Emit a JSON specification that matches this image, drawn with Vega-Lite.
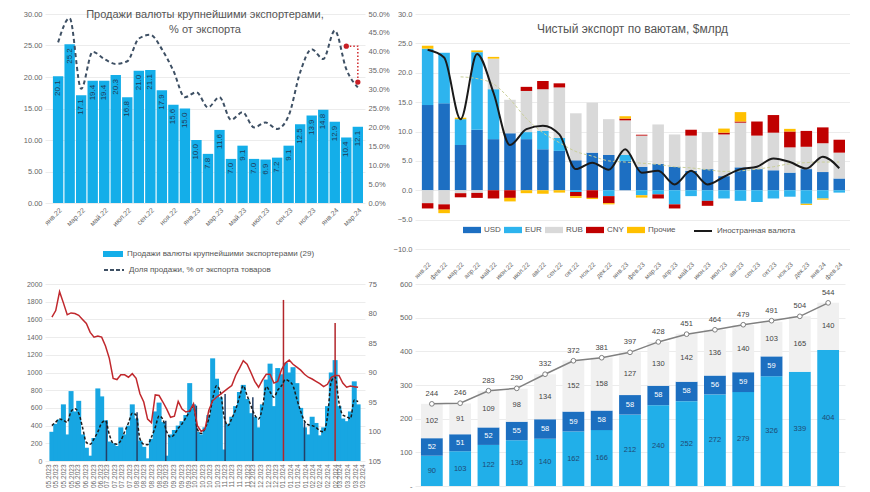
{
"$schema":"https://vega.github.io/schema/vega-lite/v6.json",
"background":"white",
"padding":{"left":23,"top":9,"right":0,"bottom":0},
"config":{"font":"Liberation Sans","view":{"stroke":null},
 "axis":{"domain":false,"ticks":false,"labelColor":"#666","gridColor":"#ececec","labelFontSize":7.5,"labelPadding":3,"labelOverlap":false},
 "legend":{"padding":0,"labelFontSize":8,"labelColor":"#555","labelLimit":300},
 "title":{"color":"#555","fontWeight":"normal","anchor":"middle","frame":"group"}},
"columns":2,
"spacing":{"row":35,"column":50},
"bounds":"flush",
"align":"each",
"resolve":{"scale":{"color":"independent","stroke":"independent"},"legend":{"color":"independent","stroke":"independent"}},
"concat":[
 {"width":320,"height":189,
  "title":{"text":["Продажи валюты крупнейшими экспортерами,","% от экспорта"],"fontSize":11,"lineHeight":15,"offset":-25},
  "data":{"values":[
{"m":"янв.22","v":20.1,"p":42.5},{"m":"фев.22","v":25.2,"p":48.9},{"m":"мар.22","v":17.1,"p":30.2},{"m":"апр.22","v":19.4,"p":40.0},{"m":"май.22","v":19.4,"p":38.1},{"m":"июн.22","v":20.3,"p":36.8},{"m":"июл.22","v":16.8,"p":37.5},{"m":"авг.22","v":21.0,"p":43.5},{"m":"сен.22","v":21.1,"p":44.5},{"m":"окт.22","v":17.9,"p":40.7},{"m":"ноя.22","v":15.6,"p":35.0},{"m":"дек.22","v":15.0,"p":28.0},{"m":"янв.23","v":10.0,"p":29.3},{"m":"фев.23","v":7.8,"p":25.3},{"m":"мар.23","v":11.6,"p":28.0},{"m":"апр.23","v":7.0,"p":22.0},{"m":"май.23","v":9.1,"p":24.0},{"m":"июн.23","v":7.0,"p":20.0},{"m":"июл.23","v":6.9,"p":21.3},{"m":"авг.23","v":7.2,"p":19.6},{"m":"сен.23","v":9.1,"p":23.1},{"m":"окт.23","v":12.5,"p":34.6},{"m":"ноя.23","v":13.9,"p":40.7},{"m":"дек.23","v":14.8,"p":38.1},{"m":"янв.24","v":12.9,"p":45.6},{"m":"фев.24","v":10.4,"p":35.4},{"m":"мар.24","v":12.1,"p":30.6}]},
  "resolve":{"scale":{"y":"independent"}},
  "layer":[
   {"encoding":{"x":{"field":"m","type":"ordinal","sort":null,"title":null,
       "scale":{"domain":["янв.22","фев.22","мар.22","апр.22","май.22","июн.22","июл.22","авг.22","сен.22","окт.22","ноя.22","дек.22","янв.23","фев.23","мар.23","апр.23","май.23","июн.23","июл.23","авг.23","сен.23","окт.23","ноя.23","дек.23","янв.24","фев.24","мар.24"],"paddingInner":0.1,"paddingOuter":0.43,"align":0.8},
       "axis":{"labelAngle":-45,"labelFontSize":7,"grid":false,"values":["янв.22","мар.22","май.22","июл.22","сен.22","ноя.22","янв.23","мар.23","май.23","июл.23","сен.23","ноя.23","янв.24","мар.24"]}},
     "y":{"field":"v","type":"quantitative","title":null,"scale":{"domain":[0,30]},"axis":{"values":[0,5,10,15,20,25,30],"format":".2f","grid":true}}},
    "layer":[
     {"mark":{"type":"bar"},
      "encoding":{"color":{"datum":"Продажи валюты крупнейшими экспортерами (29)","type":"nominal","scale":{"range":["#14aee9"]},
        "legend":{"title":null,"orient":"none","legendX":58,"legendY":230,"symbolType":"M-1,-0.3H1V0.3H-1Z","symbolSize":400,"symbolStrokeWidth":0}}}},
     {"mark":{"type":"text","angle":270,"align":"right","baseline":"middle","dx":-4,"fontSize":8,"color":"#1f3b58"},
      "encoding":{"text":{"field":"v","type":"quantitative","format":".1f"}}}
    ]},
   {"encoding":{"x":{"field":"m","type":"ordinal","sort":null},
     "y":{"field":"p","type":"quantitative","title":null,"scale":{"domain":[0,50]},"axis":{"orient":"right","values":[0,5,10,15,20,25,30,35,40,45,50],"labelExpr":"format(datum.value,'.1f')+'%'","grid":false}}},
    "layer":[
     {"mark":{"type":"line","strokeDash":[4,3],"strokeWidth":2,"interpolate":"monotone"},
      "encoding":{"stroke":{"datum":"Доля продажи, % от экспорта товаров","type":"nominal","scale":{"range":["#3e5064"]},
        "legend":{"title":null,"orient":"none","legendX":58,"legendY":245,"symbolType":"stroke","symbolDash":[4,2],"symbolStrokeWidth":2,"symbolSize":400}}}},
     {"data":{"values":[{"m":"фев.24","p":41.5,"o":1},{"m":"мар.24","p":41.5,"o":2},{"m":"мар.24","p":32,"o":3}]},
      "mark":{"type":"line","strokeDash":[1.5,2],"strokeWidth":1.5,"color":"#d0282c"},
      "encoding":{"order":{"field":"o"}}},
     {"data":{"values":[{"m":"фев.24","p":41.5},{"m":"мар.24","p":32}]},
      "mark":{"type":"point","filled":true,"color":"#c81e24","size":28,"opacity":1}}
    ]}
  ]},
 {"width":435,"height":235,
  "title":{"text":"Чистый экспорт по ваютам, $млрд","fontSize":12,"offset":-26},
  "encoding":{"x":{"field":"m","type":"ordinal","sort":null,"title":null,
       "scale":{"domain":["янв.22","фев.22","мар.22","апр.22","май.22","июн.22","июл.22","авг.22","сен.22","окт.22","ноя.22","дек.22","янв.23","фев.23","мар.23","апр.23","май.23","июн.23","июл.23","авг.23","сен.23","окт.23","ноя.23","дек.23","янв.24","фев.24"],"paddingInner":0.3,"paddingOuter":0.36,"align":0.58},
       "axis":{"labelAngle":-45,"labelFontSize":6.5,"labelPadding":12,"grid":false}},
    "y":{"type":"quantitative","title":null,"scale":{"domain":[-10,30]},"axis":{"values":[-10,-5,0,5,10,15,20,25,30],"format":".1f","grid":true}}},
  "layer":[
   {"data":{"values":[
{"m":"янв.22","c":"USD","o":1,"v":14.5},{"m":"янв.22","c":"EUR","o":2,"v":9.6},{"m":"янв.22","c":"Прочие","o":5,"v":0.5},{"m":"янв.22","c":"RUB","o":3,"v":-2.2},{"m":"янв.22","c":"CNY","o":4,"v":-0.9},
{"m":"фев.22","c":"USD","o":1,"v":14.8},{"m":"фев.22","c":"EUR","o":2,"v":8.6},{"m":"фев.22","c":"RUB","o":3,"v":-2.4},{"m":"фев.22","c":"CNY","o":4,"v":-0.9},{"m":"фев.22","c":"Прочие","o":5,"v":-0.6},
{"m":"мар.22","c":"USD","o":1,"v":7.7},{"m":"мар.22","c":"EUR","o":2,"v":4.4},{"m":"мар.22","c":"Прочие","o":5,"v":0.25},{"m":"мар.22","c":"RUB","o":3,"v":-0.5},{"m":"мар.22","c":"CNY","o":4,"v":-0.7},
{"m":"апр.22","c":"USD","o":1,"v":10.3},{"m":"апр.22","c":"EUR","o":2,"v":13.2},{"m":"апр.22","c":"Прочие","o":5,"v":0.3},{"m":"апр.22","c":"RUB","o":3,"v":-0.45},{"m":"апр.22","c":"CNY","o":4,"v":-0.85},
{"m":"май.22","c":"USD","o":1,"v":8.7},{"m":"май.22","c":"EUR","o":2,"v":8.5},{"m":"май.22","c":"RUB","o":3,"v":5.2},{"m":"май.22","c":"Прочие","o":5,"v":0.3},{"m":"май.22","c":"CNY","o":4,"v":-1.4},
{"m":"июн.22","c":"USD","o":1,"v":9.7},{"m":"июн.22","c":"RUB","o":3,"v":5.7},{"m":"июн.22","c":"CNY","o":4,"v":-1.3},{"m":"июн.22","c":"Прочие","o":5,"v":-0.6},
{"m":"июл.22","c":"USD","o":1,"v":8.7},{"m":"июл.22","c":"EUR","o":2,"v":1.2},{"m":"июл.22","c":"RUB","o":3,"v":7.0},{"m":"июл.22","c":"CNY","o":4,"v":0.7},{"m":"июл.22","c":"Прочие","o":5,"v":-0.5},
{"m":"авг.22","c":"USD","o":1,"v":7.0},{"m":"авг.22","c":"EUR","o":2,"v":3.1},{"m":"авг.22","c":"RUB","o":3,"v":7.1},{"m":"авг.22","c":"CNY","o":4,"v":1.4},{"m":"авг.22","c":"Прочие","o":5,"v":-0.6},
{"m":"сен.22","c":"USD","o":1,"v":6.7},{"m":"сен.22","c":"EUR","o":2,"v":2.2},{"m":"сен.22","c":"RUB","o":3,"v":8.6},{"m":"сен.22","c":"CNY","o":4,"v":0.7},{"m":"сен.22","c":"Прочие","o":5,"v":-0.4},
{"m":"окт.22","c":"USD","o":1,"v":5.1},{"m":"окт.22","c":"RUB","o":3,"v":8.0},{"m":"окт.22","c":"EUR","o":2,"v":-0.3},{"m":"окт.22","c":"CNY","o":4,"v":-0.7},{"m":"окт.22","c":"Прочие","o":5,"v":-0.3},
{"m":"ноя.22","c":"USD","o":1,"v":6.4},{"m":"ноя.22","c":"RUB","o":3,"v":8.5},{"m":"ноя.22","c":"CNY","o":4,"v":-1.3},{"m":"ноя.22","c":"Прочие","o":5,"v":-0.2},
{"m":"дек.22","c":"USD","o":1,"v":6.0},{"m":"дек.22","c":"RUB","o":3,"v":6.1},{"m":"дек.22","c":"EUR","o":2,"v":-1.0},{"m":"дек.22","c":"CNY","o":4,"v":-1.2},{"m":"дек.22","c":"Прочие","o":5,"v":-0.2},
{"m":"янв.23","c":"USD","o":1,"v":5.0},{"m":"янв.23","c":"EUR","o":2,"v":1.0},{"m":"янв.23","c":"RUB","o":3,"v":5.9},{"m":"янв.23","c":"CNY","o":4,"v":0.3},{"m":"янв.23","c":"Прочие","o":5,"v":0.4},
{"m":"фев.23","c":"USD","o":1,"v":4.0},{"m":"фев.23","c":"RUB","o":3,"v":5.3},{"m":"фев.23","c":"CNY","o":4,"v":0.15},{"m":"фев.23","c":"EUR","o":2,"v":-0.85},{"m":"фев.23","c":"Прочие","o":5,"v":-0.4},
{"m":"мар.23","c":"USD","o":1,"v":4.5},{"m":"мар.23","c":"RUB","o":3,"v":6.7},{"m":"мар.23","c":"EUR","o":2,"v":-0.7},{"m":"мар.23","c":"CNY","o":4,"v":-0.7},
{"m":"апр.23","c":"USD","o":1,"v":4.0},{"m":"апр.23","c":"RUB","o":3,"v":5.5},{"m":"апр.23","c":"EUR","o":2,"v":-2.4},{"m":"апр.23","c":"CNY","o":4,"v":-0.7},
{"m":"май.23","c":"USD","o":1,"v":3.3},{"m":"май.23","c":"RUB","o":3,"v":6.0},{"m":"май.23","c":"CNY","o":4,"v":1.0},{"m":"май.23","c":"EUR","o":2,"v":-1.0},
{"m":"июн.23","c":"USD","o":1,"v":3.6},{"m":"июн.23","c":"RUB","o":3,"v":6.3},{"m":"июн.23","c":"EUR","o":2,"v":-1.8},{"m":"июн.23","c":"CNY","o":4,"v":-0.85},
{"m":"июл.23","c":"USD","o":1,"v":2.4},{"m":"июл.23","c":"RUB","o":3,"v":7.1},{"m":"июл.23","c":"CNY","o":4,"v":0.3},{"m":"июл.23","c":"Прочие","o":5,"v":0.7},{"m":"июл.23","c":"EUR","o":2,"v":-1.4},
{"m":"авг.23","c":"USD","o":1,"v":3.9},{"m":"авг.23","c":"RUB","o":3,"v":7.6},{"m":"авг.23","c":"CNY","o":4,"v":0.2},{"m":"авг.23","c":"Прочие","o":5,"v":1.6},{"m":"авг.23","c":"EUR","o":2,"v":-1.8},
{"m":"сен.23","c":"USD","o":1,"v":3.6},{"m":"сен.23","c":"RUB","o":3,"v":5.7},{"m":"сен.23","c":"CNY","o":4,"v":2.4},{"m":"сен.23","c":"EUR","o":2,"v":-2.0},
{"m":"окт.23","c":"USD","o":1,"v":3.4},{"m":"окт.23","c":"RUB","o":3,"v":6.4},{"m":"окт.23","c":"CNY","o":4,"v":3.0},{"m":"окт.23","c":"EUR","o":2,"v":-1.4},
{"m":"ноя.23","c":"USD","o":1,"v":3.0},{"m":"ноя.23","c":"RUB","o":3,"v":4.3},{"m":"ноя.23","c":"CNY","o":4,"v":2.7},{"m":"ноя.23","c":"Прочие","o":5,"v":0.45},{"m":"ноя.23","c":"EUR","o":2,"v":-1.1},
{"m":"дек.23","c":"USD","o":1,"v":3.6},{"m":"дек.23","c":"RUB","o":3,"v":3.8},{"m":"дек.23","c":"CNY","o":4,"v":2.7},{"m":"дек.23","c":"EUR","o":2,"v":-2.3},{"m":"дек.23","c":"Прочие","o":5,"v":-0.2},
{"m":"янв.24","c":"USD","o":1,"v":3.1},{"m":"янв.24","c":"RUB","o":3,"v":4.9},{"m":"янв.24","c":"CNY","o":4,"v":2.7},{"m":"янв.24","c":"EUR","o":2,"v":-1.4},{"m":"янв.24","c":"Прочие","o":5,"v":-0.2},
{"m":"фев.24","c":"USD","o":1,"v":2.0},{"m":"фев.24","c":"RUB","o":3,"v":4.4},{"m":"фев.24","c":"CNY","o":4,"v":2.2},{"m":"фев.24","c":"EUR","o":2,"v":-0.4}]},
    "mark":{"type":"bar"},
    "encoding":{
     "y":{"field":"v","type":"quantitative","stack":"zero"},
     "order":{"field":"o","type":"quantitative"},
     "color":{"field":"c","type":"nominal","scale":{"domain":["USD","EUR","RUB","CNY","Прочие"],"range":["#1d6fc2","#2db4ee","#d9d9d9","#c00000","#ffc000"]},
       "legend":{"title":null,"orient":"none","direction":"horizontal","legendX":48,"legendY":207,"symbolType":"M-1,-0.35H1V0.35H-1Z","symbolSize":324,"symbolStrokeWidth":0,"columnPadding":3,"labelOffset":3,"gridAlign":"none"}}}},
   {"data":{"values":[{"m":"мар.22","g":19.3},{"m":"апр.22","g":19.0},{"m":"май.22","g":18.1},{"m":"июн.22","g":15.5},{"m":"июл.22","g":12.2},{"m":"авг.22","g":9.8},{"m":"сен.22","g":8.1},{"m":"окт.22","g":6.6},{"m":"ноя.22","g":5.8},{"m":"дек.22","g":5.0},{"m":"янв.23","g":4.8},{"m":"фев.23","g":4.6},{"m":"мар.23","g":4.4},{"m":"апр.23","g":4.0},{"m":"май.23","g":3.8},{"m":"июн.23","g":3.5},{"m":"июл.23","g":3.2},{"m":"авг.23","g":3.3},{"m":"сен.23","g":3.6},{"m":"окт.23","g":4.0},{"m":"ноя.23","g":4.5},{"m":"дек.23","g":4.7},{"m":"янв.24","g":4.8},{"m":"фев.24","g":4.8}]},
    "mark":{"type":"line","color":"#c9cf98","strokeDash":[3,2],"strokeWidth":1,"interpolate":"monotone"},
    "encoding":{"y":{"field":"g","type":"quantitative"}}},
   {"data":{"values":[{"m":"янв.22","f":23.9},{"m":"фев.22","f":22.6},{"m":"мар.22","f":12.1},{"m":"апр.22","f":23.2},{"m":"май.22","f":16.6},{"m":"июн.22","f":7.7},{"m":"июл.22","f":10.4},{"m":"авг.22","f":11.0},{"m":"сен.22","f":9.5},{"m":"окт.22","f":3.6},{"m":"ноя.22","f":4.7},{"m":"дек.22","f":3.5},{"m":"янв.23","f":7.0},{"m":"фев.23","f":3.0},{"m":"мар.23","f":3.3},{"m":"апр.23","f":1.0},{"m":"май.23","f":3.3},{"m":"июн.23","f":1.0},{"m":"июл.23","f":2.3},{"m":"авг.23","f":3.6},{"m":"сен.23","f":4.0},{"m":"окт.23","f":5.4},{"m":"ноя.23","f":4.8},{"m":"дек.23","f":3.7},{"m":"янв.24","f":5.7},{"m":"фев.24","f":3.75}]},
    "mark":{"type":"line","strokeWidth":2,"interpolate":"monotone"},
    "encoding":{"y":{"field":"f","type":"quantitative"},
     "stroke":{"datum":"Иностранная валюта","type":"nominal","scale":{"range":["#1a1a1a"]},
       "legend":{"title":null,"orient":"none","legendX":278,"legendY":207,"symbolType":"stroke","symbolStrokeWidth":2,"symbolSize":324}}}}
  ]},
 {"width":320,"height":177,
  "data":{"values":[
{"d":"2023-05-05","s":330,"m":400,"r":80.6},{"d":"2023-05-09","s":420,"m":440,"r":79.5},{"d":"2023-05-13","s":470,"m":475,"r":76.3},{"d":"2023-05-17","s":640,"m":460,"r":78.2},{"d":"2023-05-21","s":300,"m":437,"r":80.2},{"d":"2023-05-25","s":790,"m":560,"r":79.9},{"d":"2023-05-29","s":560,"m":590,"r":80.0},{"d":"2023-06-02","s":680,"m":540,"r":80.3},{"d":"2023-06-06","s":300,"m":380,"r":81.0},{"d":"2023-06-10","s":150,"m":210,"r":81.7},{"d":"2023-06-14","s":60,"m":190,"r":83.2},{"d":"2023-06-18","s":260,"m":250,"r":84.0},{"d":"2023-06-22","s":820,"m":330,"r":83.8},{"d":"2023-06-26","s":730,"m":430,"r":84.0},{"d":"2023-06-30","s":460,"m":456,"r":85.5},{"d":"2023-07-04","s":220,"m":300,"r":87.6},{"d":"2023-07-08","s":200,"m":200,"r":91.0},{"d":"2023-07-12","s":170,"m":190,"r":91.2},{"d":"2023-07-16","s":380,"m":230,"r":90.4},{"d":"2023-07-20","s":300,"m":330,"r":90.4},{"d":"2023-07-24","s":400,"m":430,"r":90.8},{"d":"2023-07-28","s":640,"m":540,"r":90.2},{"d":"2023-08-01","s":480,"m":520,"r":91.0},{"d":"2023-08-05","s":230,"m":250,"r":93.6},{"d":"2023-08-09","s":160,"m":190,"r":95.0},{"d":"2023-08-13","s":30,"m":185,"r":97.9},{"d":"2023-08-17","s":250,"m":270,"r":98.5},{"d":"2023-08-21","s":560,"m":380,"r":93.8},{"d":"2023-08-25","s":660,"m":510,"r":93.9},{"d":"2023-08-29","s":440,"m":470,"r":95.0},{"d":"2023-09-02","s":60,"m":330,"r":96.2},{"d":"2023-09-06","s":300,"m":270,"r":97.6},{"d":"2023-09-10","s":350,"m":300,"r":97.4},{"d":"2023-09-14","s":400,"m":370,"r":94.9},{"d":"2023-09-18","s":450,"m":420,"r":96.2},{"d":"2023-09-22","s":520,"m":490,"r":96.7},{"d":"2023-09-26","s":880,"m":560,"r":96.5},{"d":"2023-09-30","s":640,"m":620,"r":95.3},{"d":"2023-10-04","s":330,"m":360,"r":99.0},{"d":"2023-10-08","s":300,"m":310,"r":100.0},{"d":"2023-10-12","s":380,"m":370,"r":99.6},{"d":"2023-10-16","s":520,"m":480,"r":96.4},{"d":"2023-10-20","s":1160,"m":700,"r":94.8},{"d":"2023-10-24","s":930,"m":850,"r":94.2},{"d":"2023-10-28","s":720,"m":780,"r":93.7},{"d":"2023-11-01","s":130,"m":500,"r":93.2},{"d":"2023-11-05","s":420,"m":400,"r":92.7},{"d":"2023-11-09","s":500,"m":480,"r":92.2},{"d":"2023-11-13","s":620,"m":580,"r":90.5},{"d":"2023-11-17","s":780,"m":720,"r":89.3},{"d":"2023-11-21","s":860,"m":850,"r":88.0},{"d":"2023-11-25","s":700,"m":740,"r":88.6},{"d":"2023-11-29","s":540,"m":625,"r":90.0},{"d":"2023-12-03","s":500,"m":520,"r":91.5},{"d":"2023-12-07","s":380,"m":475,"r":92.5},{"d":"2023-12-11","s":640,"m":600,"r":91.3},{"d":"2023-12-15","s":920,"m":840,"r":90.3},{"d":"2023-12-19","s":1100,"m":780,"r":90.3},{"d":"2023-12-23","s":620,"m":720,"r":91.8},{"d":"2023-12-27","s":1050,"m":800,"r":91.5},{"d":"2023-12-31","s":980,"m":850,"r":89.5},{"d":"2024-01-04","s":1110,"m":920,"r":88.4},{"d":"2024-01-08","s":1000,"m":900,"r":87.9},{"d":"2024-01-12","s":1060,"m":850,"r":88.6},{"d":"2024-01-16","s":880,"m":700,"r":89.1},{"d":"2024-01-20","s":600,"m":560,"r":89.6},{"d":"2024-01-24","s":380,"m":450,"r":90.3},{"d":"2024-01-28","s":300,"m":410,"r":90.8},{"d":"2024-02-01","s":500,"m":400,"r":91.1},{"d":"2024-02-05","s":430,"m":380,"r":91.5},{"d":"2024-02-09","s":290,"m":343,"r":91.9},{"d":"2024-02-13","s":380,"m":330,"r":92.4},{"d":"2024-02-17","s":620,"m":500,"r":92.0},{"d":"2024-02-21","s":1000,"m":900,"r":90.8},{"d":"2024-02-25","s":1140,"m":950,"r":90.5},{"d":"2024-02-29","s":620,"m":663,"r":90.5},{"d":"2024-03-04","s":480,"m":520,"r":91.8},{"d":"2024-03-08","s":450,"m":500,"r":92.5},{"d":"2024-03-12","s":560,"m":480,"r":92.3},{"d":"2024-03-16","s":900,"m":690,"r":92.4},{"d":"2024-03-20","s":640,"m":670,"r":92.5}]},
  "resolve":{"scale":{"y":"independent"}},
  "encoding":{"x":{"field":"d","type":"temporal","title":null,
         "scale":{"domain":[{"year":2023,"month":5,"date":3},{"year":2024,"month":3,"date":22}]},
         "axis":{"format":"%m.%Y","labelAngle":-90,"labelFontSize":6.5,"labelOverlap":false,"grid":false,"tickCount":{"interval":"day","step":8}}}},
  "layer":[
   {"encoding":{"y":{"type":"quantitative","title":null,"scale":{"domain":[0,2000]},"axis":{"orient":"left","values":[0,200,400,600,800,1000,1200,1400,1600,1800,2000],"format":"d","grid":true,"labelFontSize":7}}},
    "layer":[
     {"mark":{"type":"bar","size":5,"color":"#17a6e2"},
      "encoding":{"y":{"field":"s","type":"quantitative"}}},
     {"data":{"values":[{"d":"2023-07-01","v":455,"t":"n"},{"d":"2023-08-02","v":550,"t":"n"},{"d":"2023-09-01","v":455,"t":"n"},{"d":"2023-10-03","v":625,"t":"n"},{"d":"2023-11-02","v":757,"t":"n"},{"d":"2023-12-01","v":720,"t":"n"},{"d":"2024-01-02","v":1820,"t":"r"},{"d":"2024-01-24","v":437,"t":"n"},{"d":"2024-02-25","v":1560,"t":"r"}]},
      "mark":{"type":"rule","strokeWidth":1.5},
      "encoding":{"y":{"field":"v","type":"quantitative"},"y2":{"datum":0},
       "color":{"field":"t","type":"nominal","scale":{"domain":["n","r"],"range":["#243f66","#b3262b"]},"legend":null}}},
     {"mark":{"type":"line","strokeDash":[3,2],"strokeWidth":1.5,"color":"#1b1b1b","interpolate":"monotone"},
      "encoding":{"y":{"field":"m","type":"quantitative"}}}
   ]},
   {"mark":{"type":"line","color":"#c0282d","strokeWidth":1.5},
    "encoding":{"y":{"field":"r","type":"quantitative","title":null,"scale":{"domain":[75,105],"reverse":true},"axis":{"orient":"right","values":[75,80,85,90,95,100,105],"grid":false}}}}
  ]},
 {"width":430,"height":202,
  "encoding":{"x":{"field":"k","type":"ordinal","sort":null,"title":null,
         "scale":{"domain":["1","2","3","4","5","6","7","8","9","10","11","12","13","14","15"],"paddingInner":0.23,"paddingOuter":0.21},
         "axis":{"labels":false,"grid":false}},
    "y":{"type":"quantitative","title":null,"scale":{"domain":[0,600]},"axis":{"values":[0,100,200,300,400,500,600],"grid":true,"labelExpr":"datum.value==0?'-':datum.label"}}},
  "layer":[
   {"data":{"values":[
{"k":"1","part":"a","o":1,"v":90},{"k":"1","part":"b","o":2,"v":52},{"k":"1","part":"c","o":3,"v":102},
{"k":"2","part":"a","o":1,"v":103},{"k":"2","part":"b","o":2,"v":51},{"k":"2","part":"c","o":3,"v":91},
{"k":"3","part":"a","o":1,"v":122},{"k":"3","part":"b","o":2,"v":52},{"k":"3","part":"c","o":3,"v":109},
{"k":"4","part":"a","o":1,"v":136},{"k":"4","part":"b","o":2,"v":55},{"k":"4","part":"c","o":3,"v":98},
{"k":"5","part":"a","o":1,"v":140},{"k":"5","part":"b","o":2,"v":58},{"k":"5","part":"c","o":3,"v":134},
{"k":"6","part":"a","o":1,"v":162},{"k":"6","part":"b","o":2,"v":59},{"k":"6","part":"c","o":3,"v":152},
{"k":"7","part":"a","o":1,"v":166},{"k":"7","part":"b","o":2,"v":58},{"k":"7","part":"c","o":3,"v":158},
{"k":"8","part":"a","o":1,"v":212},{"k":"8","part":"b","o":2,"v":58},{"k":"8","part":"c","o":3,"v":127},
{"k":"9","part":"a","o":1,"v":240},{"k":"9","part":"b","o":2,"v":58},{"k":"9","part":"c","o":3,"v":130},
{"k":"10","part":"a","o":1,"v":252},{"k":"10","part":"b","o":2,"v":58},{"k":"10","part":"c","o":3,"v":142},
{"k":"11","part":"a","o":1,"v":272},{"k":"11","part":"b","o":2,"v":56},{"k":"11","part":"c","o":3,"v":136},
{"k":"12","part":"a","o":1,"v":279},{"k":"12","part":"b","o":2,"v":59},{"k":"12","part":"c","o":3,"v":140},
{"k":"13","part":"a","o":1,"v":326},{"k":"13","part":"b","o":2,"v":59},{"k":"13","part":"c","o":3,"v":103},
{"k":"14","part":"a","o":1,"v":339},{"k":"14","part":"c","o":3,"v":165},
{"k":"15","part":"a","o":1,"v":404},{"k":"15","part":"c","o":3,"v":140}]},
    "transform":[{"stack":"v","groupby":["k"],"sort":[{"field":"o"}],"as":["v0","v1"]}],
    "layer":[
     {"mark":{"type":"bar"},
      "encoding":{
       "y":{"field":"v0","type":"quantitative"},
       "y2":{"field":"v1"},
       "color":{"field":"part","type":"nominal","scale":{"domain":["a","b","c"],"range":["#21afe9","#1c6fc0","#f0f0f0"]},"legend":null}}},
     {"transform":[{"fold":["v0","v1"],"as":["kk","vv"]}],
      "mark":{"type":"text","fontSize":7.5,"baseline":"middle"},
      "encoding":{
       "y":{"aggregate":"mean","field":"vv","type":"quantitative"},
       "detail":{"field":"part","type":"nominal"},
       "text":{"aggregate":"min","field":"v","type":"quantitative"},
       "color":{"condition":[{"test":"datum.part==='b'","value":"#ffffff"},{"test":"datum.part==='a'","value":"#1f4a74"}],"value":"#444444"}}}
    ]},
   {"data":{"values":[{"k":"1","t":244},{"k":"2","t":246},{"k":"3","t":283},{"k":"4","t":290},{"k":"5","t":332},{"k":"6","t":372},{"k":"7","t":381},{"k":"8","t":397},{"k":"9","t":428},{"k":"10","t":451},{"k":"11","t":464},{"k":"12","t":479},{"k":"13","t":491},{"k":"14","t":504},{"k":"15","t":544}]},
    "encoding":{"y":{"field":"t","type":"quantitative"}},
    "layer":[
     {"mark":{"type":"line","color":"#808080","strokeWidth":1.5}},
     {"mark":{"type":"point","filled":true,"fill":"white","stroke":"#808080","strokeWidth":1,"size":22,"opacity":1}},
     {"mark":{"type":"text","dy":-10,"fontSize":7.5,"color":"#444"},"encoding":{"text":{"field":"t","type":"quantitative"}}}
    ]}
  ]}
]
}
